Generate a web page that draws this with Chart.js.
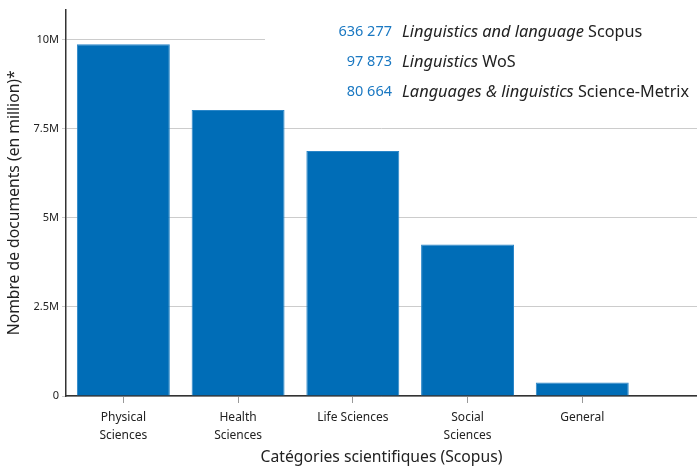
<!DOCTYPE html>
<html>
<head>
<meta charset="utf-8">
<script src="https://cdn.jsdelivr.net/npm/chart.js@4/dist/chart.umd.min.js"></script>
<style>
  body { margin: 0; background: #fff; }
  #wrap { width: 697px; height: 467px; }
</style>
</head>
<body>
<div id="wrap"><canvas id="chart" width="697" height="467"></canvas></div>
<script>
// categories + values
const categories = [['Physical', 'Sciences'], ['Health', 'Sciences'], 'Life Sciences', ['Social', 'Sciences'], 'General']
const docCounts = [9.87e6, 8.02e6, 6.87e6, 4.25e6, 0.38e6]
const yTicks = [0, 2.5e6, 5e6, 7.5e6, 10e6]
const yTickLabels = ['0', '2.5M', '5M', '7.5M', '10M']

// the little text box in the top right
const noteCounts = ['636 277', '97 873', '80 664']
const noteItalic = ['Linguistics and language', 'Linguistics', 'Languages & linguistics']
const noteSource = ['Scopus', 'WoS', 'Science-Metrix']

const FONT = '"Noto Sans", "DejaVu Sans", sans-serif'
const BLUE = '#006db7'

const notePlugin = {
    id: 'notes',
    beforeDatasetsDraw(chart) {
        const ctx = chart.ctx
        const area = chart.chartArea
        ctx.save()
        // white box hides the gridline behind the text
        ctx.fillStyle = '#fff'
        ctx.fillRect(265, area.top, area.right - 265, 105 - area.top)
        ctx.textBaseline = 'middle'
        noteCounts.forEach((count, i) => {
            const y = 32 + i * 30
            ctx.font = '14.5px ' + FONT
            ctx.fillStyle = '#1a78c2'
            ctx.textAlign = 'right'
            ctx.fillText(count, 392, y)
            ctx.textAlign = 'left'
            ctx.fillStyle = '#222'
            ctx.font = 'italic 16.4px ' + FONT
            ctx.fillText(noteItalic[i], 402, y)
            const w = ctx.measureText(noteItalic[i] + ' ').width
            ctx.font = '16.2px ' + FONT
            ctx.fillText(noteSource[i], 402 + w, y)
        })
        ctx.restore()
    }
}

new Chart(document.querySelector('#chart').getContext('2d'), {
    type: 'bar',
    data: {
        datasets: [{
            data: docCounts.map((v, i) => ({ x: i, y: v })),
            backgroundColor: BLUE,
            borderColor: '#2a86c8',
            borderWidth: 1,
            barPercentage: 0.81,
            categoryPercentage: 1
        }]
    },
    options: {
        responsive: false,
        animation: false,
        layout: { padding: { top: 7, right: 0, left: 0, bottom: 0 } },
        plugins: { legend: { display: false }, tooltip: { enabled: false } },
        scales: {
            x: {
                type: 'linear',
                min: -0.5,
                max: 5,
                offset: false,
                afterBuildTicks: scale => { scale.ticks = categories.map((c, i) => ({ value: i })) },
                afterFit: scale => { scale.height = 71 },
                ticks: {
                    callback: v => categories[v],
                    color: '#222',
                    font: { family: FONT, size: 12, lineHeight: 1.55 },
                    maxRotation: 0,
                    autoSkip: false,
                    padding: 5
                },
                grid: { drawOnChartArea: false, offset: false, tickLength: 7, color: '#999' },
                border: { color: '#333', width: 1.5 },
                title: {
                    display: true,
                    text: 'Catégories scientifiques (Scopus)',
                    color: '#222',
                    font: { family: FONT, size: 15.7 },
                    padding: { top: 2, bottom: 0 }
                }
            },
            y: {
                min: 0,
                max: 10.84e6,
                afterBuildTicks: scale => { scale.ticks = yTicks.map(v => ({ value: v })) },
                afterFit: scale => { scale.width = 66 },
                ticks: {
                    callback: (v, i) => yTickLabels[i],
                    color: '#222',
                    font: { family: FONT, size: 11 },
                    padding: 3
                },
                grid: { color: '#ccc', tickLength: 4 },
                border: { color: '#333', width: 1.5 },
                title: {
                    display: true,
                    text: 'Nombre de documents (en million)*',
                    color: '#222',
                    font: { family: FONT, size: 15.7 },
                    padding: { top: 5, bottom: 6 }
                }
            }
        }
    },
    plugins: [notePlugin]
})
</script>
</body>
</html>
